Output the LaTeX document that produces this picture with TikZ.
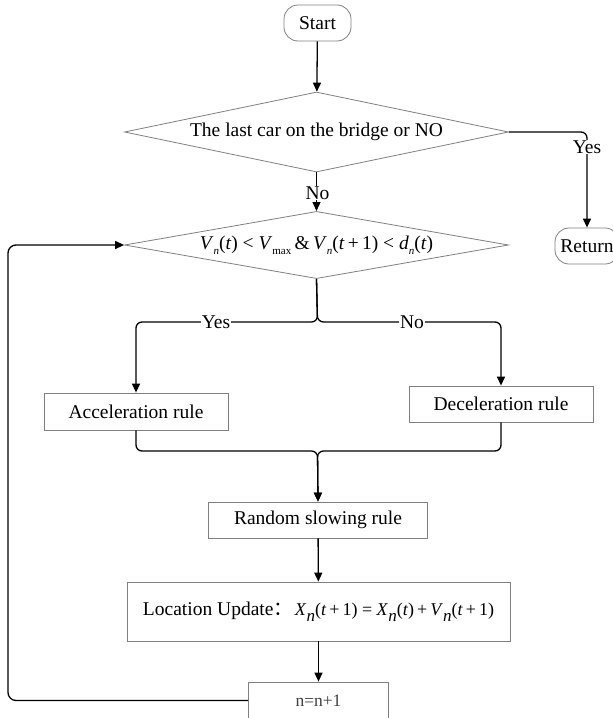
\documentclass[tikz,border=0pt]{standalone}
\usepackage{fontspec}
\setmainfont{Liberation Serif}
\newfontfamily\cjk{Noto Sans CJK SC}
\usetikzlibrary{shapes.geometric,arrows.meta}
\newcommand{\vi}[1]{\textit{#1}}
\newcommand{\lowsub}[1]{\raisebox{-0.55ex}{\fontsize{11}{11}\selectfont #1}}
\newcommand{\bigsub}[1]{\raisebox{-0.75ex}{\fontsize{17}{17}\selectfont #1}}
\begin{document}
\begin{tikzpicture}[x=1pt,y=-1pt,
  font=\fontsize{19.5}{22}\selectfont,
  box/.style={draw=black!50, line width=0.8pt, rectangle, inner sep=0pt},
  term/.style={box, rounded corners=14pt},
  dia/.style={draw=black!50, line width=0.8pt, diamond, aspect=4.8, inner sep=0pt, minimum width=384pt},
  arr/.style={line width=1.3pt, -{Triangle[length=9pt,width=8pt]}},
  conn/.style={line width=1.3pt},
  lbl/.style={fill=white, inner sep=1pt},
]
\useasboundingbox (0,0) rectangle (613,718);

\node[term, minimum width=67pt, minimum height=36pt] (start) at (317.5,23) {Start};
\node[dia, minimum height=80pt] (d1) at (316.5,132) {The last car on the bridge or NO};
\node[dia, minimum height=60pt] (d2) at (316.5,245)
  {\vi{V}\lowsub{\vi{n}}(\vi{t}) < \vi{V}\lowsub{max}\,\&\,\vi{V}\lowsub{\vi{n}}(\vi{t}\,+\,1) < \vi{d}\lowsub{\vi{n}}(\vi{t})};
\node[term, minimum width=64pt, minimum height=36pt] (ret) at (587,246) {Return};
\node[box, minimum width=184pt, minimum height=37pt] (acc) at (136,411.5) {Acceleration rule};
\node[box, minimum width=184pt, minimum height=36pt] (dec) at (501,404) {Deceleration rule};
\node[box, minimum width=219pt, minimum height=36pt] (rand) at (318,520) {Random slowing rule};
\node[box, minimum width=383pt, minimum height=59pt] (loc) at (318.5,611.5)
  {Location Update{\cjk ：}\hspace{2pt}{\fontsize{18}{20}\selectfont\vi{X}\bigsub{\vi{n}}(\vi{t}\,+\,1) = \vi{X}\bigsub{\vi{n}}(\vi{t})\,+\,\vi{V}\bigsub{\vi{n}}(\vi{t}\,+\,1)}};
\node[box, minimum width=140pt, minimum height=37pt, text=black!75, font=\fontsize{17.5}{20}\selectfont] (nn) at (318.5,700.5) {n=n+1};

\coordinate (j1) at (317.5,322);
\coordinate (j2) at (317.5,451);
\coordinate (lb) at (8,700.5);
\coordinate (lt) at (8,245);

\draw[arr] (start) -- (d1);
\draw[arr] (d1.south) -- (d2.north);
\draw[arr, rounded corners=6pt] (d1.east) -| (ret.north);
\draw[arr, rounded corners=6pt] (d2.south) -- (j1) -| (acc.north);
\draw[arr, rounded corners=6pt] (d2.south) -- (j1) -| (dec.north);
\draw[arr, rounded corners=6pt] (acc.south) |- (j2) -- (rand.north);
\draw[arr, rounded corners=6pt] (dec.south) |- (j2) -- (rand.north);
\draw[arr] (rand) -- (loc);
\draw[arr] (loc) -- (nn);
\draw[arr, rounded corners=8pt] (nn.west) -- (lb) -- (lt) -- (d2.west);

\node[lbl] (lno1) at (317.5,193) {No};
\node[lbl] (lyes1) at (587,147) {Yes};
\node[lbl] (lyes2) at (216,322) {Yes};
\node[lbl] (lno2) at (412,322) {No};
\end{tikzpicture}
\end{document}
